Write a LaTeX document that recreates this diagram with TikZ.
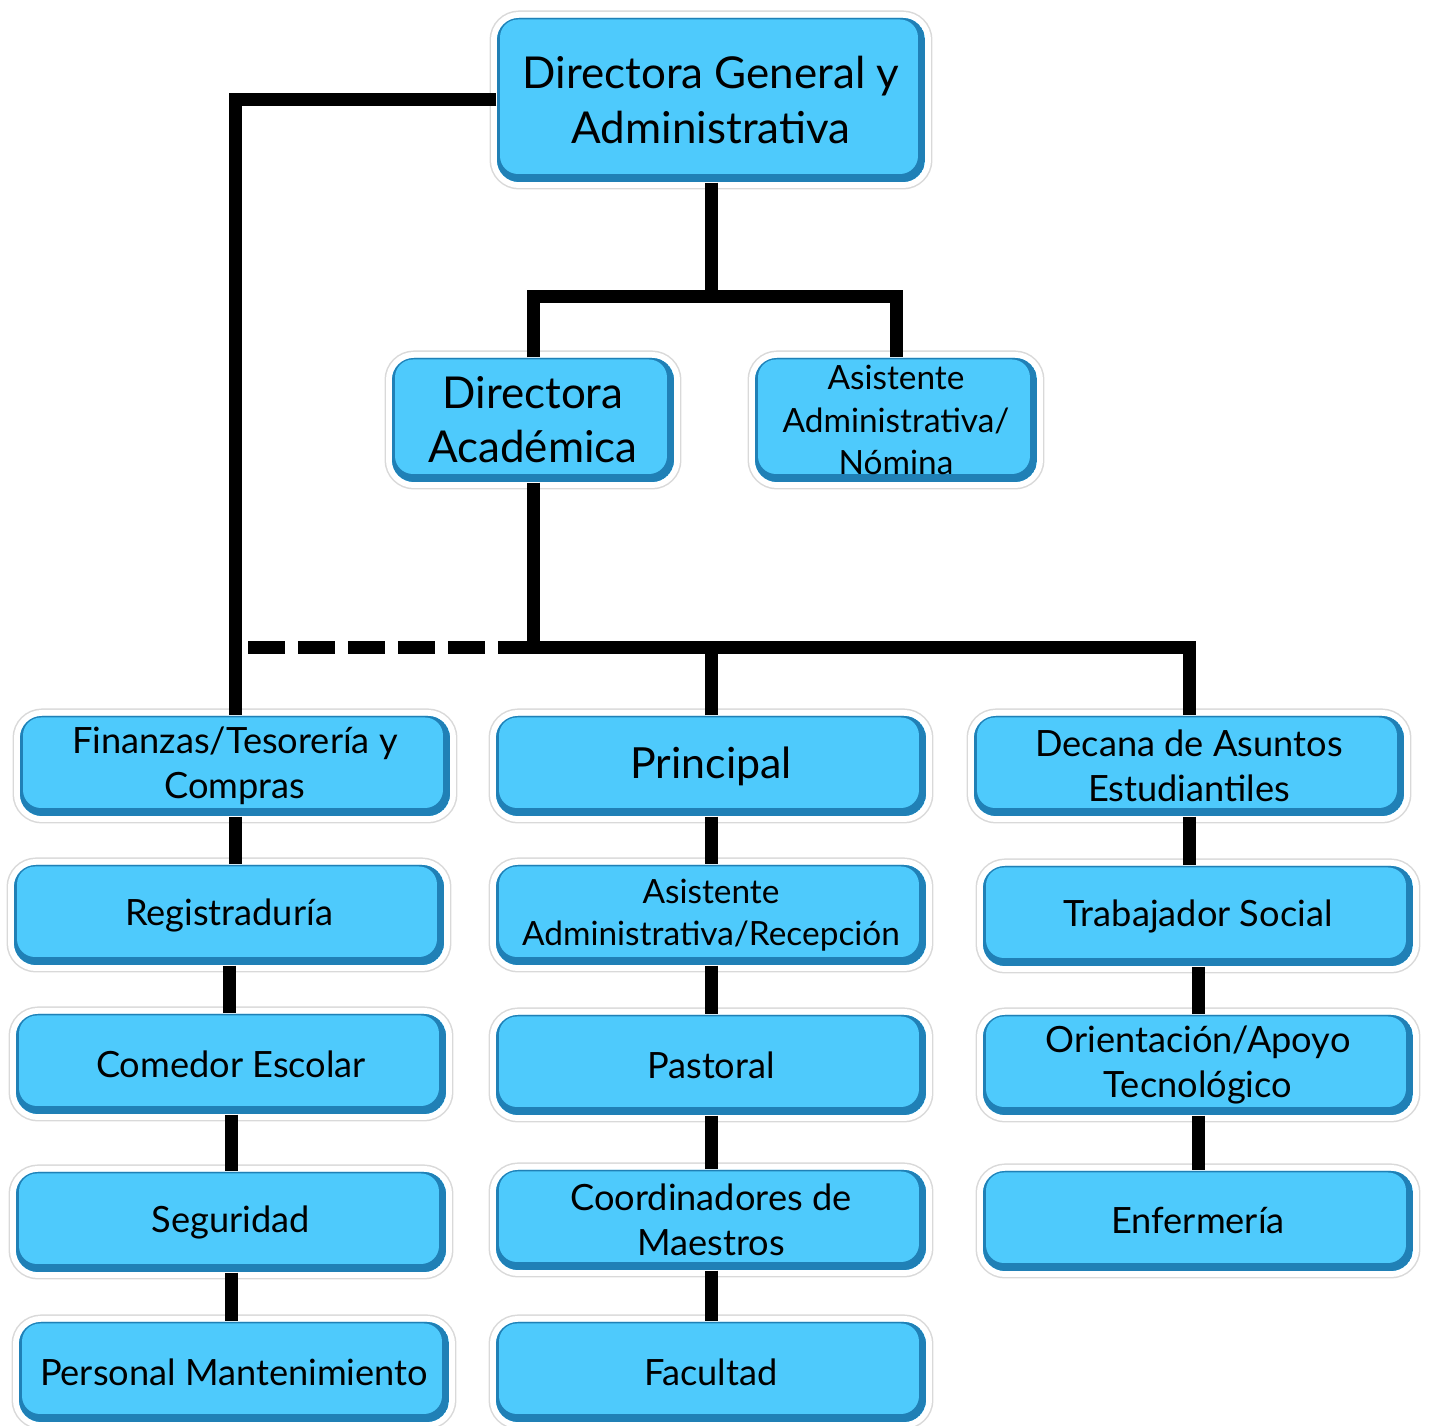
\documentclass[tikz,border=0pt]{standalone}
\usepackage{fontspec}
\setmainfont{Lato}
\definecolor{boxblue}{RGB}{78,202,252}
\definecolor{boxrim}{RGB}{32,128,182}
\tikzset{
  unit/.style={rectangle, rounded corners=2.2mm, fill=boxblue, align=center,
    inner sep=0pt, minimum width=43mm, minimum height=10mm,
    font=\fontsize{10.3pt}{12.8pt}\selectfont,
    preaction={draw=gray!30, line width=1.5mm},
    preaction={draw=white, line width=1.2mm},
    path picture={
      \fill[boxrim] (path picture bounding box.south west) rectangle (path picture bounding box.north east);
      \fill[boxblue, rounded corners=1.8mm]
        ([xshift=0.3mm,yshift=0.8mm]path picture bounding box.south west) rectangle
        ([xshift=-0.7mm,yshift=-0.15mm]path picture bounding box.north east);}},
  big/.style={font=\fontsize{12.5pt}{15.4pt}\selectfont},
  small/.style={font=\fontsize{9.5pt}{12pt}\selectfont},
  link/.style={line width=1.3mm},
}
\begin{document}
\begin{tikzpicture}[x=0.1mm,y=-0.1mm]
  \useasboundingbox (0,0) rectangle (1429,1426);
  % top levels
  \node[unit, big, minimum width=42.8mm, minimum height=16.4mm] (dga) at (711,100) {Directora General y\\Administrativa};
  \node[unit, big, minimum width=28.2mm, minimum height=12.4mm] (dac) at (533,420) {Directora\\Académica};
  \node[unit, small, minimum width=28.2mm, minimum height=12.4mm] (asn) at (896,420) {Asistente\\Administrativa/\\Nómina};
  % first column
  \node[unit] (fin) at (235,766) {Finanzas/Tesorería y\\Compras};
  \node[unit] (reg) at (229,915) {Registraduría};
  \node[unit] (com) at (231,1064) {Comedor Escolar};
  \node[unit] (seg) at (231,1222) {Seguridad};
  \node[unit] (per) at (234,1372) {Personal Mantenimiento};
  % second column
  \node[unit, font=\fontsize{12.2pt}{14pt}\selectfont] (pri) at (711,766) {Principal};
  \node[unit, small] (asr) at (711,915) {Asistente\\Administrativa/Recepción};
  \node[unit] (pas) at (711,1065) {Pastoral};
  \node[unit] (coo) at (711,1220) {Coordinadores de\\Maestros};
  \node[unit] (fac) at (711,1372) {Facultad};
  % third column
  \node[unit] (dec) at (1189,766) {Decana de Asuntos\\Estudiantiles};
  \node[unit] (tra) at (1198,916) {Trabajador Social};
  \node[unit] (ori) at (1198,1065) {Orientación/Apoyo\\Tecnológico};
  \node[unit] (enf) at (1198,1221) {Enfermería};
  % connectors
  \coordinate (b1) at (711,297);
  \coordinate (b2) at (533,648);
  \coordinate (dl) at (248,648);
  \draw[link] (dga.west) -| (fin.north);
  \draw[link] (dga.south) -- (b1);
  \draw[link] (dac.north) |- (b1) -| (asn.north);
  \draw[link] (dac.south) -- (b2) -| (dec.north);
  \draw[link] (pri.north) -- (pri.north |- b2);
  \draw[link, dash pattern=on 3.7mm off 1.3mm] (dl) -- (b2);
  \foreach \a/\b in {fin/reg,reg/com,com/seg,seg/per,pri/asr,asr/pas,pas/coo,coo/fac,dec/tra,tra/ori,ori/enf}
    \draw[link] (\a.south) -- (\a.south |- \b.north);
\end{tikzpicture}
\end{document}
